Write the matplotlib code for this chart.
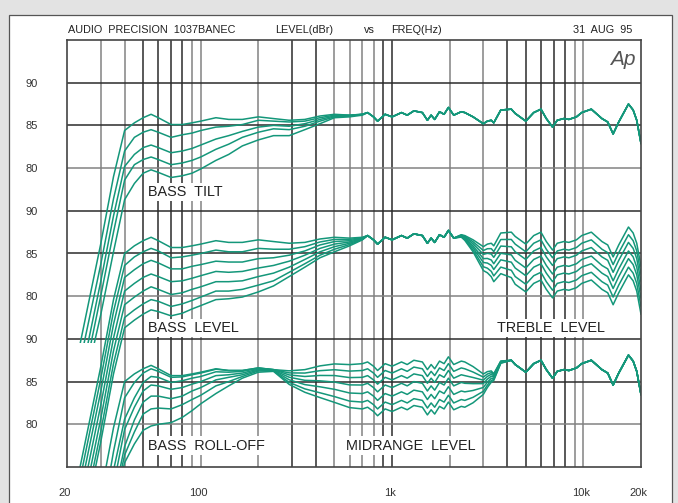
import numpy as np
import matplotlib
matplotlib.use("Agg")
import matplotlib.pyplot as plt
from matplotlib.patches import Rectangle
from matplotlib.ticker import NullLocator
from matplotlib.transforms import ScaledTranslation

plt.rcParams['font.family'] = ['Liberation Sans', 'DejaVu Sans']

# frequency grid (Hz): low part where the bass controls act, high part shared
LOW_F = [20, 25, 30, 35, 40, 45, 50, 55, 60, 70, 80, 90, 100, 120, 140, 165,
         200, 240, 290, 350, 420, 500, 600, 700]
HIGH_F = [745, 800, 840, 920, 1000, 1120, 1200, 1300, 1440, 1530, 1600, 1670,
          1770, 1870, 1970, 2100, 2300, 2400, 2650, 3000, 3150, 3300, 3400,
          3700, 4200, 4400, 5000, 5500, 6000, 6400, 6900, 7300, 7900, 8400,
          9200, 9800, 11000, 12500, 13400, 14300, 15300, 17200, 18200, 19000,
          20000]

# shared response above 700 Hz (dBr, top panel scale)
BASE_HIGH = [86.5, 86.0, 85.5, 86.3, 86.0, 86.5, 86.2, 86.7, 86.5, 85.6, 86.2,
             85.7, 86.6, 86.3, 87.1, 86.2, 86.6, 86.5, 86.0, 85.2, 85.5, 85.6,
             85.3, 86.8, 86.9, 86.4, 85.5, 86.5, 86.9, 85.8, 84.8, 85.6, 85.8,
             85.7, 86.0, 86.5, 86.9, 85.8, 85.4, 84.0, 85.4, 87.5, 86.8, 85.6,
             82.9]

# BASS TILT: five curves below 700 Hz
TILT_LOW = [
    [52, 62.5, 71.1, 79.0, 84.4, 85.3, 85.9, 86.3, 85.9, 85.1, 85.1, 85.3, 85.5, 85.9, 85.7, 85.7, 86.0, 85.8, 85.6, 85.7, 86.1, 86.3, 86.2, 86.3],
    [50, 60.3, 68.7, 76.4, 82.0, 83.6, 84.2, 84.5, 84.2, 83.6, 83.9, 84.1, 84.4, 84.8, 84.9, 85.1, 85.6, 85.5, 85.4, 85.5, 85.9, 86.2, 86.2, 86.3],
    [48, 58.1, 66.7, 74.4, 80.2, 81.6, 82.4, 82.7, 82.4, 81.8, 82.0, 82.3, 82.7, 83.4, 83.8, 84.3, 84.8, 85.0, 84.9, 85.2, 85.7, 86.1, 86.1, 86.3],
    [46, 56.4, 65.0, 72.5, 78.6, 80.4, 81.0, 81.3, 81.0, 80.4, 80.6, 80.9, 81.3, 82.2, 82.8, 83.6, 84.2, 84.6, 84.5, 84.9, 85.5, 86.0, 86.1, 86.3],
    [44, 55.0, 62.8, 70.2, 76.3, 78.2, 79.4, 79.8, 79.5, 78.9, 79.1, 79.4, 79.9, 80.9, 81.6, 82.6, 83.3, 83.8, 83.8, 84.5, 85.2, 85.9, 86.0, 86.2],
]

# flat response of the lower two panels below 700 Hz
FLAT_LOW = [52.6, 63.1, 71.7, 79.6, 85.0, 85.9, 86.5, 86.9, 86.5, 85.7, 85.7,
            85.9, 86.1, 86.5, 86.3, 86.3, 86.6, 86.4, 86.2, 86.3, 86.7, 86.9,
            86.8, 86.9]
PANEL_TRIM = 0.6  # lower panels sit this much above the top one

# BASS LEVEL offsets (dB) on LOW_F
BASS_LEVEL = [
    [0, 0, 0, 0, 0, 0, 0, 0, 0, 0, 0, 0, 0, 0, 0, 0, 0, 0, 0, 0, 0, 0, 0, 0],
    [-1.4, -1.4, -1.4, -1.4, -1.4, -1.3, -1.3, -1.3, -1.2, -1.2, -1.1, -1.1, -1.1, -1.1, -1.1, -1.1, -1.0, -0.9, -0.7, -0.5, -0.35, -0.25, -0.15, -0.05],
    [-2.9, -2.9, -2.9, -2.9, -2.8, -2.8, -2.7, -2.7, -2.6, -2.5, -2.5, -2.4, -2.4, -2.4, -2.3, -2.3, -2.2, -1.9, -1.4, -1.0, -0.7, -0.5, -0.3, -0.1],
    [-4.5, -4.5, -4.5, -4.5, -4.4, -4.4, -4.3, -4.3, -4.2, -4.0, -3.9, -3.8, -3.7, -3.6, -3.5, -3.4, -3.3, -2.8, -2.1, -1.5, -1.1, -0.8, -0.45, -0.15],
    [-6.1, -6.1, -6.1, -6.0, -6.0, -6.0, -5.9, -5.8, -5.7, -5.5, -5.3, -5.1, -5.0, -4.8, -4.6, -4.5, -4.3, -3.7, -2.8, -2.0, -1.5, -1.1, -0.6, -0.2],
    [-7.6, -7.6, -7.6, -7.5, -7.5, -7.5, -7.4, -7.3, -7.1, -6.9, -6.6, -6.4, -6.2, -5.9, -5.7, -5.5, -5.3, -4.6, -3.4, -2.5, -1.9, -1.4, -0.75, -0.25],
    [-8.8, -8.8, -8.8, -8.7, -8.7, -8.7, -8.6, -8.5, -8.3, -8.0, -7.7, -7.4, -7.2, -6.9, -6.6, -6.4, -6.1, -5.2, -3.9, -2.9, -2.2, -1.7, -0.9, -0.3],
]

# TREBLE LEVEL: shelf shape on HIGH_F and the step of each curve
TREBLE_SHAPE = [0, 0, 0, 0, 0, 0, 0, 0, 0, 0, 0, 0, 0, 0, 0, 0, 0.05, 0.1,
                0.25, 0.5, 0.6, 0.7, 0.75, 0.85, 0.95, 1, 1, 1, 1, 1, 1, 1, 1,
                1, 1, 1, 1, 1, 1, 1, 1, 1, 1, 1, 1]
TREBLE_GAIN = [0, -0.9, -1.8, -2.8, -3.7, -4.7, -5.6]

# BASS ROLL-OFF offsets (dB) on LOW_F
ROLL_OFF = [
    [0, 0, 0, 0, 0, 0, 0, 0, 0, 0, 0, 0, 0, 0, 0, 0, 0, 0, 0, 0, 0, 0, 0, 0],
    [-5.0, -4.2, -3.5, -2.8, -1.9, -1.0, -0.5, -0.4, -0.3, -0.2, -0.15, -0.1, -0.1, -0.05, 0, 0, 0, 0, 0, 0, 0, 0, 0, 0],
    [-7.0, -6.5, -6.0, -5.0, -4.4, -2.8, -1.6, -1.3, -1.0, -0.8, -0.6, -0.5, -0.5, -0.35, -0.2, -0.1, -0.05, 0, 0, 0, 0, 0, 0, 0],
    [-8.5, -8.0, -7.5, -6.8, -5.6, -3.9, -2.6, -2.3, -2.0, -1.6, -1.4, -1.2, -1.1, -0.8, -0.5, -0.3, -0.15, -0.05, 0, 0, 0, 0, 0, 0],
    [-10.0, -9.5, -9.0, -8.5, -7.6, -5.4, -3.9, -3.6, -3.2, -2.7, -2.4, -2.0, -1.8, -1.3, -0.8, -0.5, -0.25, -0.1, 0, 0, 0, 0, 0, 0],
    [-10.5, -10.0, -9.5, -9.2, -8.6, -6.8, -5.3, -5.1, -4.6, -3.9, -3.4, -3.0, -2.7, -2.0, -1.3, -0.7, -0.35, -0.15, 0, 0, 0, 0, 0, 0],
    [-11.0, -10.5, -10.0, -9.6, -9.5, -8.2, -7.2, -7.1, -6.5, -5.5, -4.9, -4.3, -3.7, -2.9, -1.8, -0.9, -0.5, -0.2, 0, 0, 0, 0, 0, 0],
]

# MIDRANGE LEVEL: shape on LOW_F + HIGH_F and the step of each curve
MID_SHAPE = [0, 0, 0, 0, 0, 0, 0, 0, 0, 0, 0, 0, 0, 0, 0, 0, 0, 0,
             0.3, 0.5, 0.7, 0.85, 0.95, 1,
             1, 1, 1, 1, 1, 1, 1, 1, 1, 1, 1, 1, 1, 1, 1, 1, 1, 1,
             0.8, 0.45, 0.35, 0.25, 0.15, 0.05,
             0, 0, 0, 0, 0, 0, 0, 0, 0, 0, 0, 0, 0, 0, 0, 0, 0, 0, 0, 0, 0]
MID_GAIN = [0.2, -0.6, -1.4, -2.3, -3.3, -4.3, -5.1]

# each panel: dBr value that sits on the bottom edge of the chart
PANEL_FLOOR = [45, 60, 75]

Y_TICKS = [45, 40, 35, 30, 25, 20, 15, 10, 5]
Y_LABELS = ['90', '85', '80', '90', '85', '80', '90', '85', '80']
X_TICKS = [20, 100, 1000, 10000, 20000]
X_LABELS = ['20', '100', '1k', '10k', '20k']

V_GRID = [30, 40, 50, 60, 70, 80, 90, 100, 200, 300, 400, 500, 600, 700, 800,
          900, 1000, 2000, 3000, 4000, 5000, 6000, 7000, 8000, 9000, 10000]
V_DARK = [0, 0, 1, 1, 1, 1, 0, 0, 0, 1, 1, 0, 0, 0, 0, 1, 1, 0, 0, 1, 1, 1, 1,
          1, 0, 0]
H_GRID = [45, 40, 35, 30, 25, 20, 15, 10, 5]
H_DARK = [1, 1, 0, 1, 1, 0, 1, 1, 0]

GREEN = '#14977a'
DARK = '#2b2b2b'
GREY = '#828282'

W, H = 678, 503
fig = plt.figure(figsize=(W / 100, H / 100), dpi=100)
fig.patch.set_facecolor('#e3e3e3')
fig.patches.append(Rectangle((8.5 / W, -0.05), (672 - 8.5) / W, 1.05 - 15 / H,
                             transform=fig.transFigure, facecolor='white',
                             edgecolor='#555555', lw=0.9, zorder=-10))

ax = fig.add_axes([67 / W, (H - 467) / H, 574 / W, 427 / H])
ax.set_zorder(2)
ax.set_xscale('log')
ax.set_xlim(20, 20000)
ax.set_ylim(0, 50)
ax.set_facecolor('white')

for f, d in zip(V_GRID, V_DARK):
    ax.axvline(f, color=DARK if d else GREY, lw=1.1, zorder=1)
for y, d in zip(H_GRID, H_DARK):
    ax.axhline(y, color=DARK if d else GREY, lw=1.1, zorder=1)

freq = np.array(LOW_F + HIGH_F, dtype=float)
base_high = np.array(BASE_HIGH)
treble_shape = np.array(TREBLE_SHAPE)
mid_shape = np.array(MID_SHAPE)
flat_low = np.array(FLAT_LOW)

# top panel curves stop at the top of the lower panel
top_clip = Rectangle((20, 14.5), 19980, 40, transform=ax.transData)
for low in TILT_LOW:
    level = np.concatenate([low, base_high])
    line, = ax.plot(freq, level - PANEL_FLOOR[0], color=GREEN, lw=1.1, zorder=3)
    line.set_clip_path(top_clip)

for bass, tg in zip(BASS_LEVEL, TREBLE_GAIN):
    level = np.concatenate([flat_low + np.array(bass),
                            base_high + PANEL_TRIM + tg * treble_shape])
    ax.plot(freq, level - PANEL_FLOOR[1], color=GREEN, lw=1.1, zorder=3)

for roll, mg in zip(ROLL_OFF, MID_GAIN):
    level = np.concatenate([flat_low + np.array(roll), base_high + PANEL_TRIM])
    level = level + mg * mid_shape
    ax.plot(freq, level - PANEL_FLOOR[2], color=GREEN, lw=1.1, zorder=3)

for s in ax.spines.values():
    s.set_color('#444444')
    s.set_linewidth(1.2)
    s.set_zorder(4)

ax.xaxis.set_minor_locator(NullLocator())
ax.set_xticks(X_TICKS)
ax.set_xticklabels(X_LABELS)
ax.set_yticks(Y_TICKS)
ax.set_yticklabels(Y_LABELS)
ax.tick_params(axis='x', length=0, pad=15, labelsize=8, labelcolor='#333333')
ax.tick_params(axis='y', length=0, pad=21, labelsize=8, labelcolor='#333333')
shift = ScaledTranslation(-2.5 / 100, 0, fig.dpi_scale_trans)
for lbl in ax.get_xticklabels():
    lbl.set_transform(lbl.get_transform() + shift)

label_box = dict(facecolor='white', edgecolor='none', boxstyle='square,pad=0.15')
for x, y, txt in [(53, 32.2, 'BASS  TILT'), (53, 16.3, 'BASS  LEVEL'),
                  (53, 2.5, 'BASS  ROLL-OFF'), (574, 2.5, 'MIDRANGE  LEVEL'),
                  (3516, 16.3, 'TREBLE  LEVEL')]:
    ax.text(x, y, txt, fontsize=10.4, color='#222222', ha='left', va='center',
            bbox=label_box, zorder=5)

ax.text(0.99, 0.955, 'Ap', transform=ax.transAxes, fontsize=15, style='italic',
        color='#555555', ha='right', va='center', zorder=5)

ty = 1 - 30 / H
fig.text(68 / W, ty, 'AUDIO  PRECISION  1037BANEC', fontsize=7.8, color='#222222', va='center')
fig.text(275 / W, ty, 'LEVEL(dBr)', fontsize=7.8, color='#222222', va='center')
fig.text(364 / W, ty, 'vs', fontsize=7.8, color='#222222', va='center')
fig.text(391 / W, ty, 'FREQ(Hz)', fontsize=7.8, color='#222222', va='center')
fig.text(632 / W, ty, '31  AUG  95', fontsize=7.8, color='#222222', va='center', ha='right')

fig.savefig('out.png', dpi=100, facecolor=fig.get_facecolor())
